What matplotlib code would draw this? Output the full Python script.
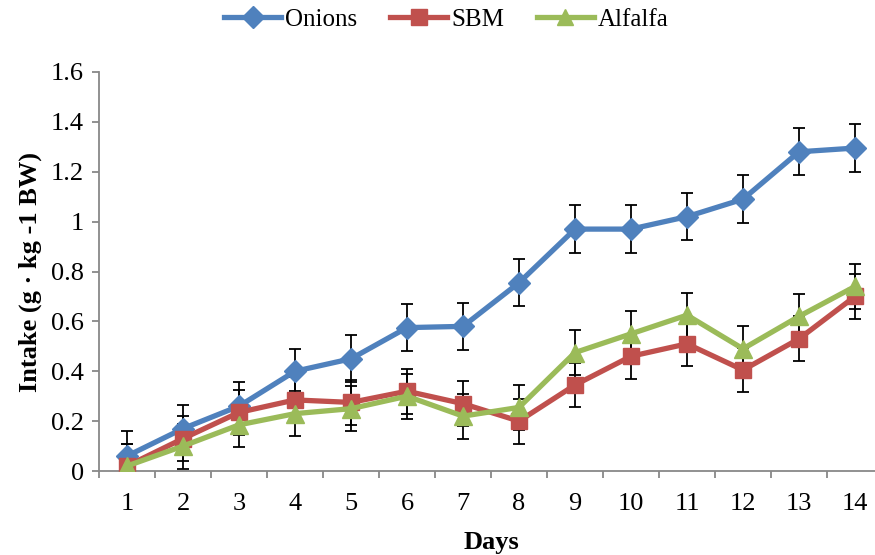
import numpy as np
from matplotlib import pyplot as plt

plt.rcParams['font.family'] = ['Liberation Serif', 'DejaVu Serif']

# data
days = list(range(1, 15))
onions = [0.06, 0.17, 0.26, 0.40, 0.45, 0.575, 0.58, 0.755, 0.97, 0.97, 1.02, 1.09, 1.28, 1.295]
sbm = [0.02, 0.13, 0.235, 0.285, 0.275, 0.32, 0.27, 0.20, 0.345, 0.46, 0.51, 0.405, 0.53, 0.70]
alfalfa = [0.02, 0.10, 0.185, 0.23, 0.25, 0.30, 0.22, 0.255, 0.475, 0.55, 0.625, 0.49, 0.62, 0.74]
onions_err = [0.10, 0.095, 0.095, 0.09, 0.095, 0.095, 0.095, 0.095, 0.095, 0.095, 0.095, 0.095, 0.095, 0.095]
sbm_err = [0.09, 0.09, 0.09, 0.09, 0.09, 0.09, 0.09, 0.09, 0.09, 0.09, 0.09, 0.09, 0.09, 0.09]
alfalfa_err = [0.09, 0.09, 0.09, 0.09, 0.09, 0.09, 0.09, 0.09, 0.09, 0.09, 0.09, 0.09, 0.09, 0.09]

fig = plt.figure(figsize=(8.75, 5.55), dpi=100)
ax = fig.add_axes([99 / 875, 1 - 471 / 555, 784 / 875, 399 / 555])

x = np.arange(1, len(days) + 1)
series = [
    ("Onions", onions, onions_err, "#4F81BD", "D", 11.5),
    ("SBM", sbm, sbm_err, "#C0504D", "s", 11.5),
    ("Alfalfa", alfalfa, alfalfa_err, "#9BBB59", "^", 12.5),
]
for name, vals, err, col, mk, ms in series:
    ax.errorbar(x, vals, yerr=err, fmt="none", ecolor="black", elinewidth=1.3,
                capsize=4, capthick=1.3, zorder=2)
for name, vals, err, col, mk, ms in series:
    ax.plot(x, vals, color=col, linewidth=3.8, marker=mk, markersize=ms,
            label=name, zorder=3)

ax.set_xlim(0.5, 14.5)
ax.set_ylim(0, 1.6)
ax.set_yticks(np.arange(0, 1.61, 0.2))
ax.set_yticklabels(["0", "0.2", "0.4", "0.6", "0.8", "1", "1.2", "1.4", "1.6"])
ax.set_xticks(x)
ax.set_xticklabels([str(d) for d in days])
ax.set_xticks(np.arange(0.5, 15, 1), minor=True)
ax.tick_params(axis="x", which="major", length=0, pad=16, labelsize=19)
ax.tick_params(axis="x", which="minor", length=5, color="#888888", width=1.3)
ax.tick_params(axis="y", length=5, color="#888888", width=1.3, labelsize=19, pad=6)

for s in ["top", "right"]:
    ax.spines[s].set_visible(False)
for s in ["left", "bottom"]:
    ax.spines[s].set_color("#888888")
    ax.spines[s].set_linewidth(1.3)

ax.set_xlabel("Days", fontsize=19, fontweight="bold", labelpad=11)
ax.set_ylabel("Intake (g · kg -1 BW)", fontsize=19, fontweight="bold", labelpad=6)

fig.legend(loc="upper center", bbox_to_anchor=(0.51, 1.025), ncol=3, frameon=False,
           fontsize=18, handlelength=2.3, columnspacing=1.3, handletextpad=0.15,
           markerscale=0.95)

fig.savefig("out.png", dpi=100)
